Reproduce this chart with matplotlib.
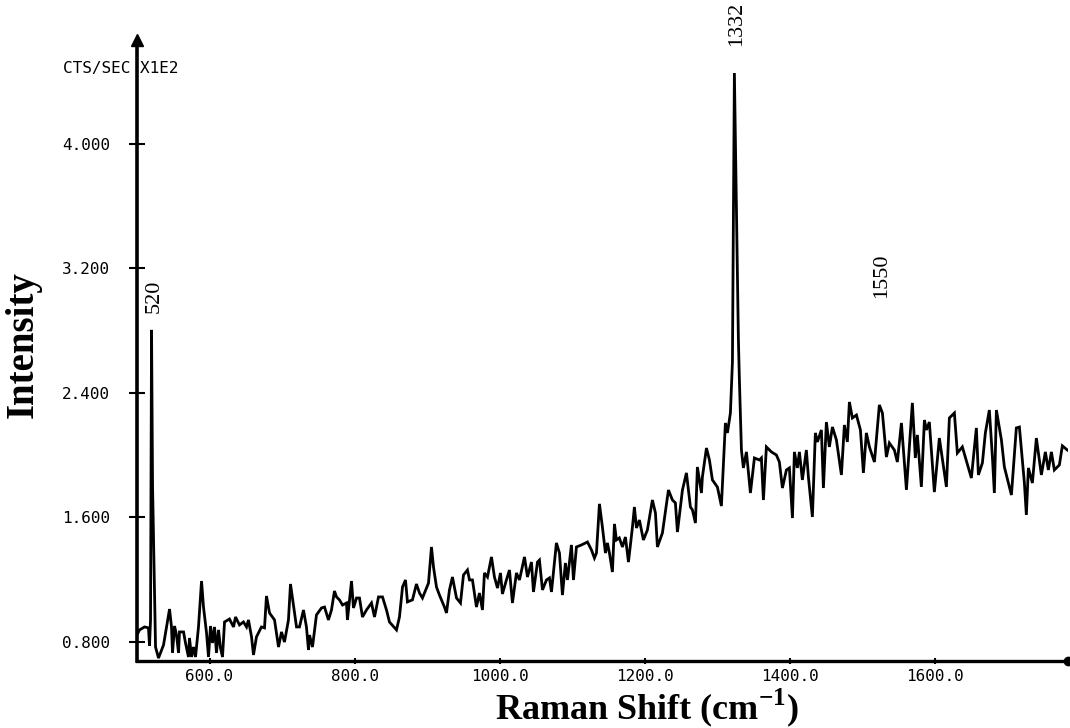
import matplotlib
matplotlib.use("Agg")
import matplotlib.pyplot as plt

# ---- data ----
wavenumber = [
    500, 503.5, 510.4, 515.9, 517.3, 518.7, 520.1, 521.5, 525.6, 529.7, 536.6, 544.9, 547.6, 549.0,
    551.8, 554.5, 557.3, 558.6, 564.2, 566.9, 571.0, 572.4, 575.2, 577.9, 580.7, 584.8, 589.0,
    591.7, 595.9, 598.6, 601.4, 604.1, 606.9, 609.6, 612.4, 615.1, 617.9, 620.7, 627.5, 633.1,
    635.8, 641.3, 646.8, 651.0, 653.7, 657.9, 660.6, 664.7, 671.6, 675.8, 678.5, 682.7, 689.6,
    695.1, 699.2, 703.3, 708.8, 711.6, 715.7, 719.9, 724.0, 729.5, 733.6, 736.4, 737.8, 741.9,
    747.4, 754.3, 758.5, 763.9, 768.1, 772.2, 775.0, 779.1, 783.3, 788.8, 790.1, 795.7, 798.4,
    802.6, 806.7, 810.8, 816.3, 823.2, 827.4, 832.9, 838.4, 843.9, 848.0, 857.7, 861.8, 866.0,
    870.1, 872.8, 879.7, 885.2, 889.4, 893.5, 899.0, 901.8, 905.9, 908.7, 912.8, 916.9, 923.8,
    926.6, 930.7, 934.8, 940.4, 945.9, 950.0, 955.5, 958.3, 962.4, 967.9, 972.0, 976.2, 978.9,
    983.1, 988.6, 992.7, 996.9, 1001.0, 1003.7, 1009.2, 1013.4, 1017.5, 1023.0, 1027.2, 1034.1,
    1038.2, 1043.7, 1046.5, 1052.0, 1054.7, 1058.9, 1064.4, 1068.5, 1071.3, 1078.1, 1082.3,
    1086.4, 1090.5, 1093.3, 1098.8, 1101.6, 1105.7, 1112.6, 1120.9, 1126.4, 1130.5, 1133.3,
    1137.4, 1141.5, 1145.7, 1148.4, 1151.2, 1155.3, 1158.1, 1160.8, 1164.8, 1169.1, 1173.2,
    1177.4, 1182.9, 1185.6, 1188.4, 1192.5, 1198.0, 1203.5, 1210.4, 1214.6, 1217.3, 1224.2,
    1232.5, 1238.0, 1242.1, 1244.9, 1251.8, 1257.3, 1262.8, 1265.6, 1269.7, 1272.4, 1278.0,
    1279.3, 1284.9, 1289.0, 1293.1, 1300.0, 1305.5, 1311.0, 1313.8, 1317.9, 1320.7, 1323.4,
    1326.2, 1328.9, 1330.3, 1333.1, 1335.8, 1340.0, 1342.7, 1345.5, 1351.0, 1357.9, 1360.6,
    1363.4, 1367.5, 1374.4, 1381.3, 1385.4, 1389.6, 1395.1, 1399.2, 1403.4, 1406.1, 1410.2,
    1413.0, 1417.1, 1422.6, 1425.4, 1430.9, 1435.0, 1437.8, 1443.3, 1446.1, 1450.2, 1454.3,
    1458.5, 1464.0, 1470.9, 1475.0, 1479.1, 1481.9, 1486.0, 1491.6, 1497.1, 1501.2, 1505.3,
    1509.5, 1516.4, 1523.2, 1527.4, 1532.9, 1537.0, 1543.9, 1548.0, 1553.6, 1560.5, 1568.7,
    1572.8, 1575.6, 1581.1, 1585.3, 1588.0, 1592.1, 1599.0, 1605.9, 1615.6, 1619.7, 1626.6,
    1630.7, 1637.6, 1650.0, 1656.9, 1659.7, 1665.2, 1669.3, 1674.8, 1679.0, 1681.7, 1684.5,
    1691.4, 1695.5, 1705.2, 1712.0, 1716.2, 1723.1, 1725.8, 1728.6, 1734.1, 1739.6, 1746.5,
    1752.0, 1756.1, 1760.3, 1764.4, 1771.3, 1775.4, 1782.3,
]
intensity = [
    0.844, 0.877, 0.896, 0.890, 0.774, 0.941, 2.805, 1.800, 0.767, 0.696, 0.780, 1.011, 0.896, 0.729,
    0.902, 0.844, 0.729, 0.864, 0.864, 0.793, 0.703, 0.825, 0.703, 0.767, 0.703, 0.896, 1.191,
    1.024, 0.857, 0.703, 0.902, 0.793, 0.896, 0.729, 0.877, 0.761, 0.703, 0.928, 0.947, 0.896,
    0.960, 0.909, 0.928, 0.896, 0.941, 0.832, 0.716, 0.832, 0.896, 0.890, 1.095, 0.986, 0.941,
    0.767, 0.864, 0.799, 0.941, 1.172, 1.037, 0.896, 0.896, 1.005, 0.896, 0.748, 0.844, 0.767,
    0.973, 1.018, 1.024, 0.941, 1.005, 1.127, 1.089, 1.070, 1.037, 1.050, 0.941, 1.191, 1.018,
    1.082, 1.082, 0.960, 1.005, 1.050, 0.960, 1.089, 1.089, 1.005, 0.928, 0.877, 0.960, 1.153,
    1.198, 1.057, 1.070, 1.172, 1.114, 1.082, 1.146, 1.178, 1.410, 1.281, 1.153, 1.101, 1.024,
    0.986, 1.134, 1.217, 1.082, 1.050, 1.230, 1.262, 1.198, 1.198, 1.024, 1.114, 1.005, 1.243,
    1.217, 1.346, 1.217, 1.146, 1.243, 1.108, 1.198, 1.262, 1.050, 1.243, 1.198, 1.346,
    1.217, 1.313, 1.121, 1.313, 1.326, 1.134, 1.198, 1.211, 1.121, 1.436, 1.371,
    1.101, 1.307, 1.198, 1.423, 1.198, 1.410, 1.423, 1.442, 1.391, 1.339, 1.371,
    1.687, 1.538, 1.371, 1.436, 1.371, 1.249, 1.558, 1.455, 1.468, 1.410, 1.474,
    1.313, 1.538, 1.667, 1.532, 1.583, 1.455, 1.519, 1.712, 1.628, 1.410, 1.500,
    1.776, 1.712, 1.693, 1.506, 1.776, 1.886, 1.667, 1.648, 1.564, 1.924, 1.757,
    1.860, 2.046, 1.969, 1.841, 1.795, 1.673, 2.207, 2.143, 2.271, 2.600, 4.456,
    3.600, 2.750, 2.483, 2.033, 1.918, 2.021, 1.892, 1.757, 1.982, 1.969, 1.982,
    1.712, 2.053, 2.021, 2.001, 1.956, 1.789, 1.905, 1.918, 1.596, 2.021, 1.918,
    2.021, 1.841, 2.033, 1.860, 1.603, 2.143, 2.085, 2.162, 1.789, 2.213, 2.053,
    2.181, 2.098, 1.873, 2.194, 2.085, 2.342, 2.239, 2.258, 2.162, 1.886, 2.143,
    2.053, 1.956, 2.323, 2.271, 1.988, 2.078, 2.033, 1.956, 2.207, 1.777, 2.336,
    1.982, 2.130, 1.796, 2.226, 2.162, 2.213, 1.763, 2.110, 1.796, 2.239, 2.271,
    2.014, 2.053, 1.853, 2.175, 1.873, 1.950, 2.143, 2.290, 1.988, 1.757, 2.290,
    2.098, 1.924, 1.744, 2.175, 2.181, 1.821, 1.616, 1.918, 1.821, 2.110, 1.873,
    2.021, 1.905, 2.021, 1.905, 1.937, 2.060, 2.033,
]
x_ticks = [600, 800, 1000, 1200, 1400, 1600]
x_tick_labels = ["600.0", "800.0", "1000.0", "1200.0", "1400.0", "1600.0"]
y_ticks = [0.8, 1.6, 2.4, 3.2, 4.0]
y_tick_labels = ["0.800", "1.600", "2.400", "3.200", "4.000"]
peak_labels = ["520", "1332", "1550"]
peak_label_pos = [(524, 3.02), (1326, 4.77), (1526, 3.15)]

plt.rcParams["mathtext.fontset"] = "custom"
plt.rcParams["mathtext.rm"] = "Liberation Serif:bold"
plt.rcParams["mathtext.bf"] = "Liberation Serif:bold"

fig = plt.figure(figsize=(10.70, 7.28), dpi=100)
ax = fig.add_axes([0.128, 0.092, 0.870, 0.853])

ax.plot(wavenumber, intensity, color="black", lw=2.0, solid_joinstyle="miter")

ax.set_xlim(500, 1783)
ax.set_ylim(0.677, 4.668)

for s in ["top", "right"]:
    ax.spines[s].set_visible(False)
ax.spines["left"].set_linewidth(2.6)
ax.spines["bottom"].set_linewidth(2.4)

ax.set_xticks(x_ticks)
ax.set_xticklabels(x_tick_labels, family="DejaVu Sans Mono", fontsize=11.5)
ax.set_yticks(y_ticks)
ax.set_yticklabels(y_tick_labels, family="DejaVu Sans Mono", fontsize=11.5)
ax.tick_params(axis="y", direction="inout", length=12, width=1.5, pad=13.5)
ax.tick_params(axis="x", direction="inout", length=5, width=1.5, pad=3)

# axis end markers
ax.plot(0, 1, marker="^", color="black", markersize=8, transform=ax.transAxes, clip_on=False)
ax.plot(1, 0, marker="o", color="black", markersize=6, transform=ax.transAxes, clip_on=False)

ax.set_ylabel("Intensity", family="Liberation Serif", fontweight="bold", fontsize=28)
ax.yaxis.set_label_coords(-0.102, 0.51)
ax.set_xlabel("Raman Shift (cm$^{\\mathbf{-1}}$)", family="Liberation Serif",
              fontweight="bold", fontsize=26)
ax.xaxis.set_label_coords(0.548, -0.076)
ax.xaxis.label.set_va("center")

fig.text(63 / 1070, 1 - 68 / 728, "CTS/SEC X1E2", family="DejaVu Sans Mono",
         fontsize=11.5, va="center", ha="left")

for lab, (px, py) in zip(peak_labels, peak_label_pos):
    ax.text(px, py, lab, rotation=90, ha="center", va="center",
            family="Liberation Serif", fontsize=16, clip_on=False)

fig.savefig("out.png", dpi=100)
